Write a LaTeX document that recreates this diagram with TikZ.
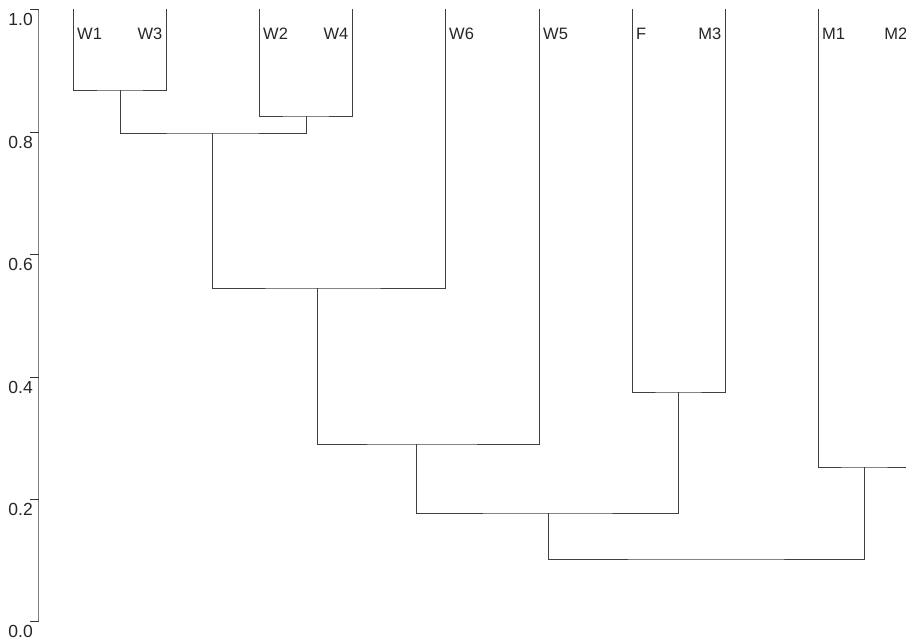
\documentclass[tikz,border=0pt]{standalone}
\usepackage{fontspec}
\setmainfont{Liberation Sans}
\begin{document}
\begin{tikzpicture}[x=1pt,y=-1pt,
  branch/.style={draw=black!75,line width=0.95pt},
  axisline/.style={draw=black!50,line width=1.3pt},
  tickline/.style={draw=black!80,line width=1pt},
  leaflab/.style={inner sep=0pt,font=\fontsize{16.5}{16.5}\selectfont,text=black!85},
  axlab/.style={inner sep=0pt,font=\fontsize{17.5}{17.5}\selectfont,text=black!85,anchor=base east}]
\useasboundingbox (0,0) rectangle (906,638);
\clip (0,0) rectangle (906,638);
% axis
\coordinate (ax0) at (38.5,621);
\coordinate (ax1) at (38.5,9);
\draw[axisline] (ax0) -- (ax1);
\foreach \v/\y/\n in {0.0/621/t0,0.2/499/t2,0.4/377/t4,0.6/254/t6,0.8/132/t8,1.0/9/t10}{
  \coordinate (\n) at (38.5,\y);
  \coordinate (\n l) at (30,\y);
  \draw[tickline] (\n l) -- (\n);
  \node[axlab] (\n lab) at (33,\y+16.5) {\v};
}
% leaves
\foreach \n/\x in {W1/73,W3/166,W2/259,W4/352,W6/445,W5/539,F/632,M3/725,M1/818,M2/911}{
  \coordinate (\n) at (\x,9);
}
% merges
\coordinate (a) at (120,90);
\coordinate (b) at (306,116);
\coordinate (c) at (212,133);
\coordinate (d) at (317,288);
\coordinate (e) at (416,444);
\coordinate (f) at (678,392);
\coordinate (g) at (548,513);
\coordinate (h) at (864,467);
\coordinate (i) at (706,559);
\draw[branch] (W1) |- (a) -| (W3);
\draw[branch] (W2) |- (b) -| (W4);
\draw[branch] (a) |- (c) -| (b);
\draw[branch] (c) |- (d) -| (W6);
\draw[branch] (d) |- (e) -| (W5);
\draw[branch] (F) |- (f) -| (M3);
\draw[branch] (e) |- (g) -| (f);
\draw[branch] (M1) |- (h) -| (M2);
\draw[branch] (g) |- (i) -| (h);
% labels
\foreach \n/\x in {W1/73,W2/259,W6/445,W5/539,F/632,M1/818}{
  \node[leaflab,anchor=base west] (\n lab) at (\x+4,39.5) {\n};
}
\foreach \n/\x in {W3/166,W4/352,M3/725,M2/911}{
  \node[leaflab,anchor=base east] (\n lab) at (\x-3.5,39.5) {\n};
}
\end{tikzpicture}
\end{document}
